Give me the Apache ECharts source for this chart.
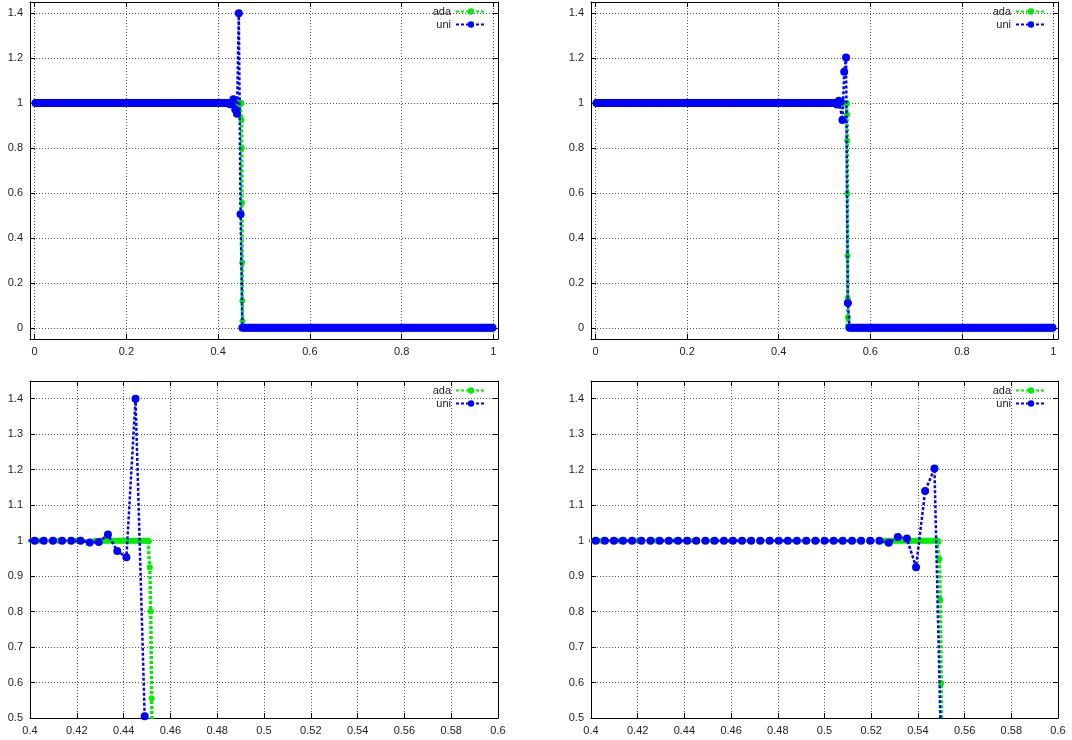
<!DOCTYPE html>
<html>
<head>
<meta charset="utf-8">
<script src="https://cdn.jsdelivr.net/npm/echarts@6.0.0/dist/echarts.min.js"></script>
<style>html,body{margin:0;padding:0;background:#fff}#c{width:1072px;height:740px}</style>
</head>
<body>
<div id="c"></div>
<script>
// ---------- DATA ----------
const seriesNames = ['ada', 'uni'];

// uniform mesh: cell centres
const uniX = [
0.0020,0.0059,0.0098,0.0137,0.0176,0.0216,0.0255,0.0294,0.0333,0.0373,0.0412,0.0451,0.0490,0.0529,0.0569,0.0608,0.0647,0.0686,0.0725,0.0765,
0.0804,0.0843,0.0882,0.0922,0.0961,0.1000,0.1039,0.1078,0.1118,0.1157,0.1196,0.1235,0.1275,0.1314,0.1353,0.1392,0.1431,0.1471,0.1510,0.1549,
0.1588,0.1627,0.1667,0.1706,0.1745,0.1784,0.1824,0.1863,0.1902,0.1941,0.1980,0.2020,0.2059,0.2098,0.2137,0.2176,0.2216,0.2255,0.2294,0.2333,
0.2373,0.2412,0.2451,0.2490,0.2529,0.2569,0.2608,0.2647,0.2686,0.2725,0.2765,0.2804,0.2843,0.2882,0.2922,0.2961,0.3000,0.3039,0.3078,0.3118,
0.3157,0.3196,0.3235,0.3275,0.3314,0.3353,0.3392,0.3431,0.3471,0.3510,0.3549,0.3588,0.3627,0.3667,0.3706,0.3745,0.3784,0.3824,0.3863,0.3902,
0.3941,0.3980,0.4020,0.4059,0.4098,0.4137,0.4176,0.4216,0.4255,0.4294,0.4333,0.4373,0.4412,0.4451,0.4490,0.4529,0.4569,0.4608,0.4647,0.4686,
0.4725,0.4765,0.4804,0.4843,0.4882,0.4922,0.4961,0.5000,0.5039,0.5078,0.5118,0.5157,0.5196,0.5235,0.5275,0.5314,0.5353,0.5392,0.5431,0.5471,
0.5510,0.5549,0.5588,0.5627,0.5667,0.5706,0.5745,0.5784,0.5824,0.5863,0.5902,0.5941,0.5980,0.6020,0.6059,0.6098,0.6137,0.6176,0.6216,0.6255,
0.6294,0.6333,0.6373,0.6412,0.6451,0.6490,0.6529,0.6569,0.6608,0.6647,0.6686,0.6725,0.6765,0.6804,0.6843,0.6882,0.6922,0.6961,0.7000,0.7039,
0.7078,0.7118,0.7157,0.7196,0.7235,0.7275,0.7314,0.7353,0.7392,0.7431,0.7471,0.7510,0.7549,0.7588,0.7627,0.7667,0.7706,0.7745,0.7784,0.7824,
0.7863,0.7902,0.7941,0.7980,0.8020,0.8059,0.8098,0.8137,0.8176,0.8216,0.8255,0.8294,0.8333,0.8373,0.8412,0.8451,0.8490,0.8529,0.8569,0.8608,
0.8647,0.8686,0.8725,0.8765,0.8804,0.8843,0.8882,0.8922,0.8961,0.9000,0.9039,0.9078,0.9118,0.9157,0.9196,0.9235,0.9275,0.9314,0.9353,0.9392,
0.9431,0.9471,0.9510,0.9549,0.9588,0.9627,0.9667,0.9706,0.9745,0.9784,0.9824,0.9863,0.9902,0.9941,0.9980
];

// uniform solution, left case (shock near 0.45)
const uniLeftY = [
1,1,1,1,1,1,1,1,1,1,1,1,1,1,1,1,1,1,1,1,
1,1,1,1,1,1,1,1,1,1,1,1,1,1,1,1,1,1,1,1,
1,1,1,1,1,1,1,1,1,1,1,1,1,1,1,1,1,1,1,1,
1,1,1,1,1,1,1,1,1,1,1,1,1,1,1,1,1,1,1,1,
1,1,1,1,1,1,1,1,1,1,1,1,1,1,1,1,1,1,1,1,
1,1,1,1,1,1,1,1,
0.995,0.996,1.017,0.971,0.953,1.4,0.505,
0,0,0,0,0,0,0,0,0,0,0,0,0,0,0,0,0,0,0,0,
0,0,0,0,0,0,0,0,0,0,0,0,0,0,0,0,0,0,0,0,
0,0,0,0,0,0,0,0,0,0,0,0,0,0,0,0,0,0,0,0,
0,0,0,0,0,0,0,0,0,0,0,0,0,0,0,0,0,0,0,0,
0,0,0,0,0,0,0,0,0,0,0,0,0,0,0,0,0,0,0,0,
0,0,0,0,0,0,0,0,0,0,0,0,0,0,0,0,0,0,0,0,
0,0,0,0,0,0,0,0,0,0,0,0,0,0,0,0,0,0,0,0
];

// uniform solution, right case (shock near 0.55)
const uniRightY = [
1,1,1,1,1,1,1,1,1,1,1,1,1,1,1,1,1,1,1,1,
1,1,1,1,1,1,1,1,1,1,1,1,1,1,1,1,1,1,1,1,
1,1,1,1,1,1,1,1,1,1,1,1,1,1,1,1,1,1,1,1,
1,1,1,1,1,1,1,1,1,1,1,1,1,1,1,1,1,1,1,1,
1,1,1,1,1,1,1,1,1,1,1,1,1,1,1,1,1,1,1,1,
1,1,1,1,1,1,1,1,1,1,1,1,1,1,1,1,1,1,1,1,
1,1,1,1,1,1,1,1,1,1,1,1,1,1,
0.994,1.01,1.006,0.925,1.14,1.203,0.11,
0,0,0,0,0,0,0,0,0,0,0,0,0,0,0,0,0,0,0,0,
0,0,0,0,0,0,0,0,0,0,0,0,0,0,0,0,0,0,0,0,
0,0,0,0,0,0,0,0,0,0,0,0,0,0,0,0,0,0,0,0,
0,0,0,0,0,0,0,0,0,0,0,0,0,0,0,0,0,0,0,0,
0,0,0,0,0,0,0,0,0,0,0,0,0,0,0,0,0,0,0,0,
0,0,0,0,0,0,0,0,0,0,0,0,0,0
];

// adaptive mesh solution, left case: [x, y]
const adaLeft = [
[0.004,1],[0.012,1],[0.02,1],[0.028,1],[0.036,1],[0.044,1],[0.052,1],[0.06,1],[0.068,1],[0.076,1],
[0.084,1],[0.092,1],[0.1,1],[0.108,1],[0.116,1],[0.124,1],[0.132,1],[0.14,1],[0.148,1],[0.156,1],
[0.164,1],[0.172,1],[0.18,1],[0.188,1],[0.196,1],[0.204,1],[0.212,1],[0.22,1],[0.228,1],[0.236,1],
[0.244,1],[0.252,1],[0.26,1],[0.268,1],[0.276,1],[0.284,1],[0.292,1],[0.3,1],[0.308,1],[0.316,1],
[0.324,1],[0.332,1],[0.34,1],[0.348,1],[0.356,1],[0.364,1],[0.372,1],[0.38,1],[0.388,1],[0.396,1],
[0.404,1],[0.412,1],[0.42,1],[0.428,1],
[0.43,1],[0.4308,1],[0.4316,1],[0.4324,1],[0.4332,1],[0.434,1],[0.4348,1],[0.4356,1],[0.4364,1],[0.4372,1],
[0.438,1],[0.4388,1],[0.4396,1],[0.4404,1],[0.4412,1],[0.442,1],[0.4428,1],[0.4436,1],[0.4444,1],[0.4452,1],
[0.446,1],[0.4468,1],[0.4476,1],[0.4484,1],[0.4492,1],[0.45,1],
[0.4504,1],[0.4508,0.998],[0.4512,0.925],[0.4516,0.8],[0.452,0.556],[0.4524,0.29],[0.4528,0.12],[0.4532,0.03],[0.4536,0.004],[0.454,0],
[0.4548,0],[0.4556,0],[0.4564,0],[0.4572,0],[0.458,0],
[0.46,0],[0.468,0],[0.476,0],[0.484,0],[0.492,0],[0.5,0],[0.508,0],[0.516,0],[0.524,0],[0.532,0],
[0.54,0],[0.548,0],[0.556,0],[0.564,0],[0.572,0],[0.58,0],[0.588,0],[0.596,0],[0.604,0],[0.612,0],
[0.62,0],[0.628,0],[0.636,0],[0.644,0],[0.652,0],[0.66,0],[0.668,0],[0.676,0],[0.684,0],[0.692,0],
[0.7,0],[0.708,0],[0.716,0],[0.724,0],[0.732,0],[0.74,0],[0.748,0],[0.756,0],[0.764,0],[0.772,0],
[0.78,0],[0.788,0],[0.796,0],[0.804,0],[0.812,0],[0.82,0],[0.828,0],[0.836,0],[0.844,0],[0.852,0],
[0.86,0],[0.868,0],[0.876,0],[0.884,0],[0.892,0],[0.9,0],[0.908,0],[0.916,0],[0.924,0],[0.932,0],
[0.94,0],[0.948,0],[0.956,0],[0.964,0],[0.972,0],[0.98,0],[0.988,0],[0.996,0]
];

// adaptive mesh solution, right case: [x, y]
const adaRight = [
[0.004,1],[0.012,1],[0.02,1],[0.028,1],[0.036,1],[0.044,1],[0.052,1],[0.06,1],[0.068,1],[0.076,1],
[0.084,1],[0.092,1],[0.1,1],[0.108,1],[0.116,1],[0.124,1],[0.132,1],[0.14,1],[0.148,1],[0.156,1],
[0.164,1],[0.172,1],[0.18,1],[0.188,1],[0.196,1],[0.204,1],[0.212,1],[0.22,1],[0.228,1],[0.236,1],
[0.244,1],[0.252,1],[0.26,1],[0.268,1],[0.276,1],[0.284,1],[0.292,1],[0.3,1],[0.308,1],[0.316,1],
[0.324,1],[0.332,1],[0.34,1],[0.348,1],[0.356,1],[0.364,1],[0.372,1],[0.38,1],[0.388,1],[0.396,1],
[0.404,1],[0.412,1],[0.42,1],[0.428,1],[0.436,1],[0.444,1],[0.452,1],[0.46,1],[0.468,1],[0.476,1],
[0.484,1],[0.492,1],[0.5,1],[0.508,1],[0.516,1],[0.524,1],
[0.5256,1],[0.5264,1],[0.5272,1],[0.528,1],[0.5288,1],[0.5296,1],[0.5304,1],[0.5312,1],[0.532,1],[0.5328,1],
[0.5336,1],[0.5344,1],[0.5352,1],[0.536,1],[0.5368,1],[0.5376,1],[0.5384,1],[0.5392,1],[0.54,1],[0.5408,1],
[0.5416,1],[0.5424,1],[0.5432,1],[0.544,1],[0.5448,1],[0.5456,1],[0.5464,1],[0.5472,1],[0.548,1],
[0.5484,1],[0.5488,0.997],[0.5492,0.948],[0.5496,0.832],[0.55,0.598],[0.5504,0.32],[0.5508,0.13],[0.5512,0.046],[0.5516,0.008],[0.552,0],
[0.5528,0],[0.5536,0],[0.5544,0],[0.5552,0],
[0.556,0],[0.564,0],[0.572,0],[0.58,0],[0.588,0],[0.596,0],[0.604,0],[0.612,0],
[0.62,0],[0.628,0],[0.636,0],[0.644,0],[0.652,0],[0.66,0],[0.668,0],[0.676,0],[0.684,0],[0.692,0],
[0.7,0],[0.708,0],[0.716,0],[0.724,0],[0.732,0],[0.74,0],[0.748,0],[0.756,0],[0.764,0],[0.772,0],
[0.78,0],[0.788,0],[0.796,0],[0.804,0],[0.812,0],[0.82,0],[0.828,0],[0.836,0],[0.844,0],[0.852,0],
[0.86,0],[0.868,0],[0.876,0],[0.884,0],[0.892,0],[0.9,0],[0.908,0],[0.916,0],[0.924,0],[0.932,0],
[0.94,0],[0.948,0],[0.956,0],[0.964,0],[0.972,0],[0.98,0],[0.988,0],[0.996,0]
];

// axis ranges and tick values
const fullXRange = [-0.01, 1.01];
const fullXTicks = [0, 0.2, 0.4, 0.6, 0.8, 1];
const fullYRange = [-0.05, 1.45];
const fullYTicks = [0, 0.2, 0.4, 0.6, 0.8, 1, 1.2, 1.4];
const zoomXRange = [0.4, 0.6];
const zoomXTicks = [0.4, 0.42, 0.44, 0.46, 0.48, 0.5, 0.52, 0.54, 0.56, 0.58, 0.6];
const zoomYRange = [0.5, 1.45];
const zoomYTicks = [0.5, 0.6, 0.7, 0.8, 0.9, 1, 1.1, 1.2, 1.3, 1.4];

// ---------- CHART ----------
const FONT = '"Liberation Sans", Arial, sans-serif';
const GREEN = '#00ee00', BLUE = '#0000ff';
const grids = [
  {left: 30, top: 2, width: 468, height: 337},
  {left: 591, top: 2, width: 467, height: 337},
  {left: 30, top: 381, width: 468, height: 337},
  {left: 591, top: 381, width: 467, height: 337}
];
const panels = [
  {xr: fullXRange, xt: fullXTicks, yr: fullYRange, yt: fullYTicks, ada: adaLeft, uniY: uniLeftY},
  {xr: fullXRange, xt: fullXTicks, yr: fullYRange, yt: fullYTicks, ada: adaRight, uniY: uniRightY},
  {xr: zoomXRange, xt: zoomXTicks, yr: zoomYRange, yt: zoomYTicks, ada: adaLeft, uniY: uniLeftY},
  {xr: zoomXRange, xt: zoomXTicks, yr: zoomYRange, yt: zoomYTicks, ada: adaRight, uniY: uniRightY}
];

function axis(gi, range, ticks, pos, primary) {
  return {
    type: 'value', gridIndex: gi, position: pos,
    min: range[0], max: range[1],
    axisLine: {show: true, onZero: false, lineStyle: {color: '#000', width: 1}},
    axisTick: {show: true, inside: true, length: 5, customValues: ticks, lineStyle: {color: '#000', width: 1}},
    axisLabel: {show: primary, fontSize: 11, color: '#222', fontFamily: FONT, margin: 7,
      customValues: ticks, formatter: v => String(+(+v).toFixed(4))},
    splitLine: {show: primary, customValues: ticks, lineStyle: {color: '#555', width: 1, type: [1, 2]}},
    minorTick: {show: false}
  };
}

const xAxis = [], yAxis = [], series = [], legend = [];
panels.forEach((p, gi) => {
  xAxis.push(axis(gi, p.xr, p.xt, 'bottom', true));
  xAxis.push(axis(gi, p.xr, p.xt, 'top', false));
  yAxis.push(axis(gi, p.yr, p.yt, 'left', true));
  yAxis.push(axis(gi, p.yr, p.yt, 'right', false));
  const uniData = uniX.map((x, i) => [x, p.uniY[i]]);
  series.push({
    type: 'line', name: 'ada', data: p.ada, xAxisIndex: 2 * gi, yAxisIndex: 2 * gi,
    symbol: 'circle', symbolSize: 6, showSymbol: true, clip: true,
    itemStyle: {color: GREEN}, lineStyle: {color: GREEN, width: 3.5, type: [3, 2]},
    emphasis: {disabled: true}, z: 2
  });
  series.push({
    type: 'line', name: 'uni', data: uniData, xAxisIndex: 2 * gi, yAxisIndex: 2 * gi,
    symbol: 'circle', symbolSize: 8, showSymbol: true, clip: true,
    itemStyle: {color: BLUE}, lineStyle: {color: BLUE, width: 2.5, type: [3, 2]},
    emphasis: {disabled: true}, z: 3
  });
  const g = grids[gi];
  legend.push({
    data: seriesNames, orient: 'vertical', align: 'right',
    right: 1072 - (g.left + g.width - 11), top: g.top + 4,
    itemWidth: 30, itemHeight: 8, itemGap: 2, padding: 0, selectedMode: false,
    textStyle: {fontSize: 11, color: '#222', fontFamily: FONT, lineHeight: 10}
  });
});

const chart = echarts.init(document.getElementById('c'), null, {renderer: 'canvas'});
chart.setOption({
  animation: false,
  backgroundColor: '#fff',
  grid: grids.map(g => Object.assign({containLabel: false}, g)),
  xAxis, yAxis, series, legend
});
</script>
</body>
</html>
